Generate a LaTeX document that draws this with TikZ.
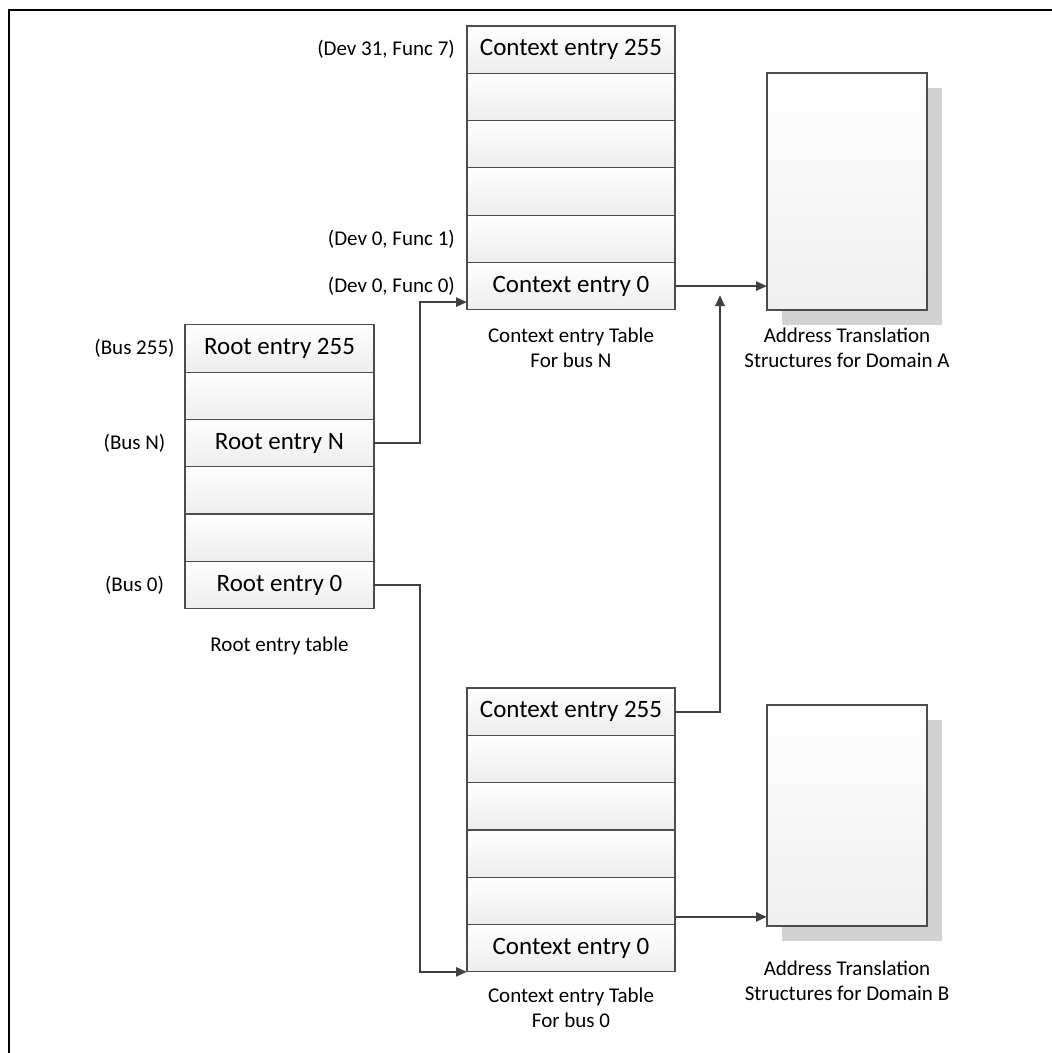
\documentclass[tikz,border=0pt]{standalone}
\usepackage{fontspec}
\setmainfont{Carlito}
\usetikzlibrary{positioning,arrows.meta,shadows}

\tikzset{
  entry/.style={rectangle, draw=gray!60!black, line width=1.2pt, outer sep=0pt, inner sep=0pt,
    top color=white, bottom color=gray!14, minimum height=47.3pt, font=\fontsize{25}{29}\selectfont},
  rootentry/.style={entry, minimum width=189pt},
  ctxentry/.style={entry, minimum width=208pt},
  tagtext/.style={inner sep=0pt, font=\fontsize{21}{25}\selectfont},
  captext/.style={align=center, inner sep=0pt, font=\fontsize{21}{25}\selectfont},
  domainbox/.style={rectangle, draw=gray!60!black, line width=1.2pt, outer sep=0pt,
    top color=white, bottom color=gray!12, minimum width=160pt,
    drop shadow={shadow xshift=15pt, shadow yshift=-15pt, fill=gray!35, opacity=1}},
  link/.style={draw=black!75, line width=2.4pt, -{Triangle[length=11pt,width=9pt]}}
}

\begin{document}
\begin{tikzpicture}[x=1pt, y=-1pt, node distance=0pt]
	\useasboundingbox (0,0) rectangle (1052,1053);
	\draw[line width=2pt] (9,1053) -- (9,10) -- (1052,10);

	% root entry table
	\node[rootentry] (r255) at (279.5,348.5) {Root entry 255};
	\node[rootentry] (rb1) [below=of r255] {};
	\node[rootentry] (rN) [below=of rb1] {Root entry N};
	\node[rootentry] (rb2) [below=of rN] {};
	\node[rootentry] (rb3) [below=of rb2] {};
	\node[rootentry] (r0) [below=of rb3] {Root entry 0};

	% context entry table for bus N
	\node[ctxentry] (cN255) at (571,49.6) {Context entry 255};
	\node[ctxentry] (cNb1) [below=of cN255] {};
	\node[ctxentry] (cNb2) [below=of cNb1] {};
	\node[ctxentry] (cNb3) [below=of cNb2] {};
	\node[ctxentry] (cNb4) [below=of cNb3] {};
	\node[ctxentry] (cN0) [below=of cNb4] {Context entry 0};

	% context entry table for bus 0
	\node[ctxentry] (c0255) at (571,711.7) {Context entry 255};
	\node[ctxentry] (c0b1) [below=of c0255] {};
	\node[ctxentry] (c0b2) [below=of c0b1] {};
	\node[ctxentry] (c0b3) [below=of c0b2] {};
	\node[ctxentry] (c0b4) [below=of c0b3] {};
	\node[ctxentry] (c00) [below=of c0b4] {Context entry 0};

	% domains
	\node[domainbox, minimum height=237pt] (domA) at (847,191.5) {};
	\node[domainbox, minimum height=221pt] (domB) at (847,815.5) {};

	% tags
	\node[tagtext] (tdev317) [left=12pt of cN255] {(Dev 31, Func 7)};
	\node[tagtext] (tdev01) [left=12pt of cNb4] {(Dev 0, Func 1)};
	\node[tagtext] (tdev00) [left=12pt of cN0] {(Dev 0, Func 0)};
	\node[tagtext] (tbus255) at ([xshift=-145pt]r255.center) {(Bus 255)};
	\node[tagtext] (tbusN) at ([xshift=-145pt]rN.center) {(Bus N)};
	\node[tagtext] (tbus0) at ([xshift=-145pt]r0.center) {(Bus 0)};

	% captions
	\node[captext] (caproot) [below=28pt of r0] {Root entry table};
	\node[captext] (capN) [below=18pt of cN0] {Context entry Table\\For bus N};
	\node[captext] (capA) at (domA |- capN) {Address Translation\\Structures for Domain A};
	\node[captext] (cap0) [below=16pt of c00] {Context entry Table\\For bus 0};
	\node[captext] (capB) [below=35pt of domB] {Address Translation\\Structures for Domain B};

	% pointers
	\coordinate (mergeA) at (720,295);
	\draw[link] (rN.east) -- ++(46,0) |- ([yshift=-16pt]cN0.west);
	\draw[link] (r0.east) -- ++(46,0) |- (c00.south west);
	\draw[link] (cN0.east) -- (cN0.east -| domA.west);
	\draw[link] (c0255.east) -| (mergeA);
	\draw[link] ([yshift=-16pt]c0b4.east) -- ([yshift=-16pt]c0b4.east -| domB.west);
\end{tikzpicture}
\end{document}
